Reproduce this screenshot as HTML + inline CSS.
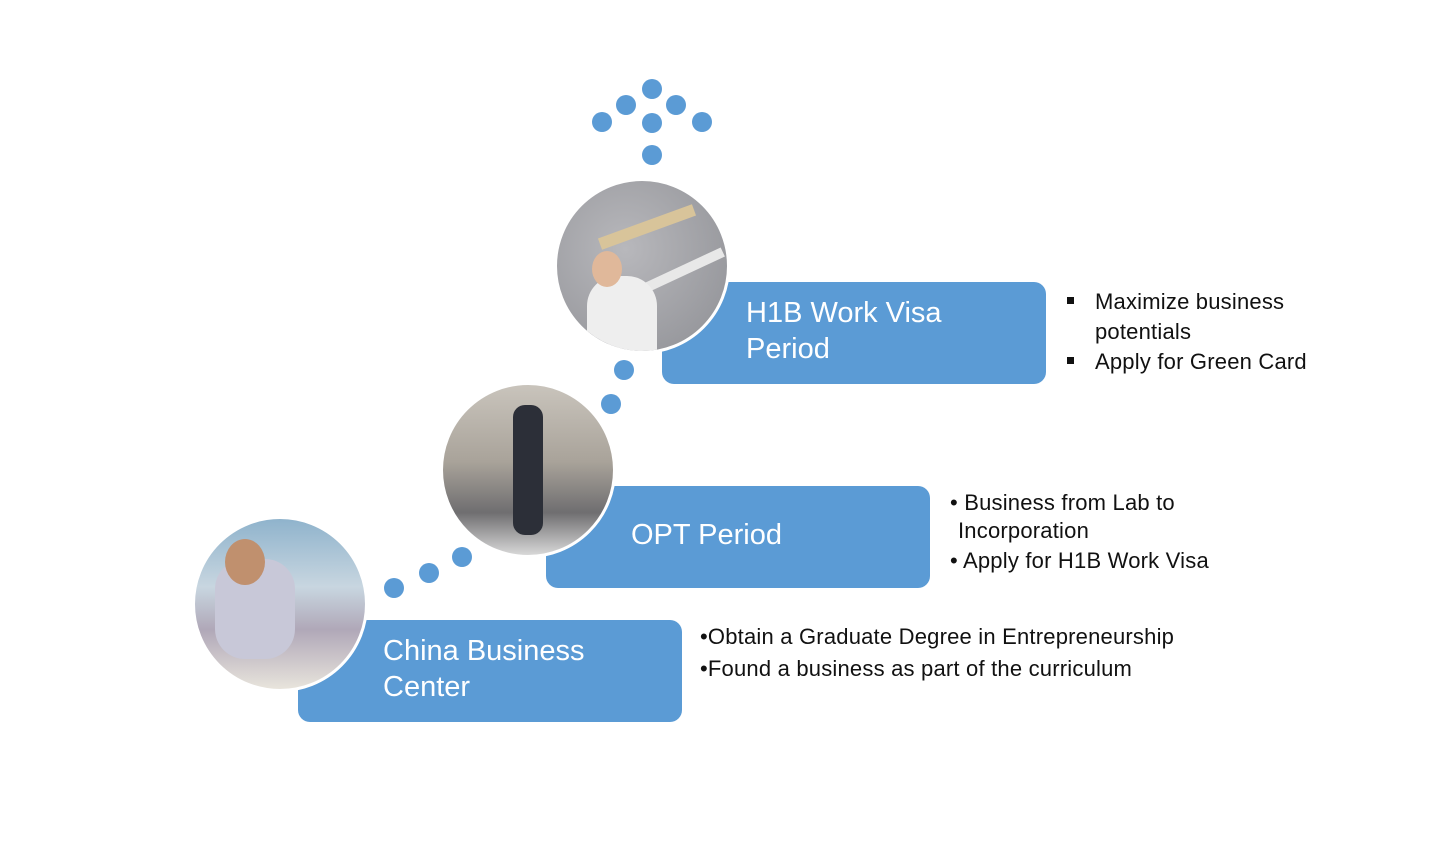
<!DOCTYPE html>
<html><head><meta charset="utf-8"><style>
html,body{margin:0;padding:0;background:#fff;}
body{width:1442px;height:858px;position:relative;overflow:hidden;font-family:"Liberation Sans",sans-serif;}
.dot{position:absolute;width:20px;height:20px;border-radius:50%;background:#5b9bd5;}
.box{position:absolute;background:#5b9bd5;border-radius:12px;width:384px;height:102px;}
.bt{position:absolute;color:#fff;font-size:29px;line-height:36px;}
.circ{position:absolute;width:176px;height:176px;border-radius:50%;border:3px solid #fff;box-sizing:border-box;overflow:hidden;}
.txt{position:absolute;color:#111;font-size:22px;line-height:30px;letter-spacing:0.2px;white-space:nowrap;}
.sq{position:absolute;width:7px;height:7px;background:#111;}
</style></head><body>
<div class="dot" style="left:592px;top:112px"></div>
<div class="dot" style="left:616px;top:95px"></div>
<div class="dot" style="left:642px;top:79px"></div>
<div class="dot" style="left:666px;top:95px"></div>
<div class="dot" style="left:692px;top:112px"></div>
<div class="dot" style="left:642px;top:113px"></div>
<div class="dot" style="left:642px;top:145px"></div>
<div class="dot" style="left:614px;top:360px"></div>
<div class="dot" style="left:601px;top:394px"></div>
<div class="dot" style="left:384px;top:578px"></div>
<div class="dot" style="left:419px;top:563px"></div>
<div class="dot" style="left:452px;top:547px"></div>

<div class="box" style="left:662px;top:282px"></div>
<div class="bt" style="left:746px;top:295px">H1B Work Visa<br>Period</div>
<div class="box" style="left:546px;top:486px"></div>
<div class="bt" style="left:631px;top:517px">OPT Period</div>
<div class="box" style="left:298px;top:620px"></div>
<div class="bt" style="left:383px;top:633px">China Business<br>Center</div>

<div class="circ" style="left:554px;top:178px;background:radial-gradient(circle at 40% 40%,#b8b8bc,#8e8f94);">
 <div style="position:absolute;left:40px;top:40px;width:100px;height:12px;background:#d8c49a;transform:rotate(-20deg)"></div>
 <div style="position:absolute;left:80px;top:85px;width:90px;height:10px;background:#e8e8e8;transform:rotate(-25deg)"></div>
 <div style="position:absolute;left:30px;top:95px;width:70px;height:80px;background:#eee;border-radius:30px 30px 0 0"></div>
 <div style="position:absolute;left:35px;top:70px;width:30px;height:36px;background:#e0b89a;border-radius:50%"></div>
</div>
<div class="circ" style="left:440px;top:382px;background:linear-gradient(#c9c4bc 0%,#a9a39a 45%,#6f6e70 75%,#d8d8d8 100%);">
 <div style="position:absolute;left:70px;top:20px;width:30px;height:130px;background:#2c2f38;border-radius:12px"></div>
</div>
<div class="circ" style="left:192px;top:516px;background:linear-gradient(#8fb3cc 0%,#c8d6e0 40%,#b0a8b8 65%,#e8e4dc 100%);">
 <div style="position:absolute;left:20px;top:40px;width:80px;height:100px;background:#c8c8d8;border-radius:30px"></div>
 <div style="position:absolute;left:30px;top:20px;width:40px;height:46px;background:#c0906e;border-radius:50%"></div>
</div>

<div class="sq" style="left:1067px;top:297px"></div>
<div class="txt" style="left:1095px;top:287px">Maximize business</div>
<div class="txt" style="left:1095px;top:317px">potentials</div>
<div class="sq" style="left:1067px;top:357px"></div>
<div class="txt" style="left:1095px;top:347px">Apply for Green Card</div>
<div class="txt" style="left:950px;top:488px">• Business from Lab to</div>
<div class="txt" style="left:958px;top:516px">Incorporation</div>
<div class="txt" style="left:950px;top:546px">• Apply for H1B Work Visa</div>
<div class="txt" style="left:700px;top:622px">•Obtain a Graduate Degree in Entrepreneurship</div>
<div class="txt" style="left:700px;top:654px">•Found a business as part of the curriculum</div>
</body></html>
